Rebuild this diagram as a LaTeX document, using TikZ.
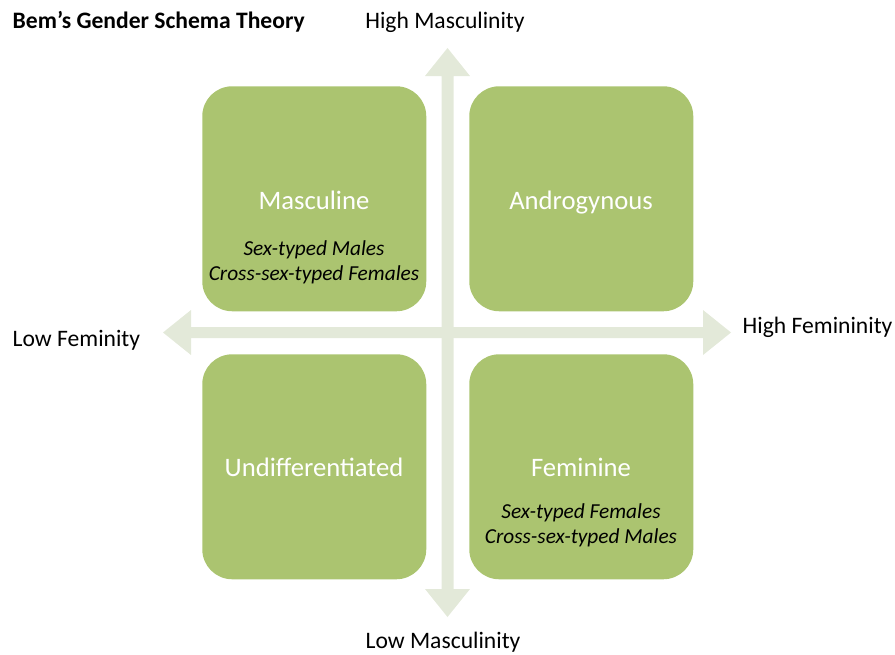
\documentclass[tikz,border=0pt]{standalone}
\usepackage{fontspec}
\setmainfont{Carlito}
\definecolor{boxgreen}{HTML}{ABC470}
\definecolor{arrowgreen}{HTML}{E3E9D9}
\begin{document}
\begin{tikzpicture}[x=0.75pt,y=-0.75pt,
  quad/.style={fill=boxgreen,rounded corners=22.5pt,minimum width=168pt,minimum height=168.75pt,inner sep=0pt,anchor=north west},
  qtitle/.style={text=white,font=\fontsize{20}{24}\selectfont,text height=13pt,text depth=4pt},
  qsub/.style={text=black,font=\fontsize{16}{19}\selectfont\itshape,align=center},
  axislabel/.style={font=\fontsize{17.7}{21}\selectfont,text=black},
  cross/.style={fill=arrowgreen}]
\useasboundingbox (0,0) rectangle (895,654);
% axes
\fill[cross] (441.5,76) -- (425,76) -- (447.5,48) -- (470,76) -- (453.5,76) -- (453.5,589) -- (470,589) -- (447.5,617) -- (425,589) -- (441.5,589) -- cycle;
\fill[cross] (191,327) -- (191,310) -- (163,332.5) -- (191,355) -- (191,338) -- (703,338) -- (703,355) -- (731,332.5) -- (703,310) -- (703,327) -- cycle;
% quadrants
\node[quad] (tl) at (202,86) {};
\node[quad] (tr) at (469,86) {};
\node[quad] (bl) at (202,354) {};
\node[quad] (br) at (469,354) {};
\node[qtitle] (tlt) at (314,203) {Masculine};
\node[qsub] (tls) at (314,262) {Sex-typed Males\\Cross-sex-typed Females};
\node[qtitle] (trt) at (581,203) {Androgynous};
\node[qtitle] (blt) at (314,470) {Undifferentiated};
\node[qtitle] (brt) at (581,470) {Feminine};
\node[qsub] (brs) at (581,525) {Sex-typed Females\\Cross-sex-typed Males};
% labels
\node[axislabel,font=\fontsize{17.7}{21}\selectfont\bfseries,anchor=west] (title) at (8,22) {Bem’s Gender Schema Theory};
\node[axislabel] (hm) at (445,22) {High Masculinity};
\node[axislabel] (lm) at (443,642) {Low Masculinity};
\node[axislabel,anchor=west] (lf) at (8,340) {Low Feminity};
\node[axislabel,anchor=west] (hf) at (738,327) {High Femininity};
\end{tikzpicture}
\end{document}
